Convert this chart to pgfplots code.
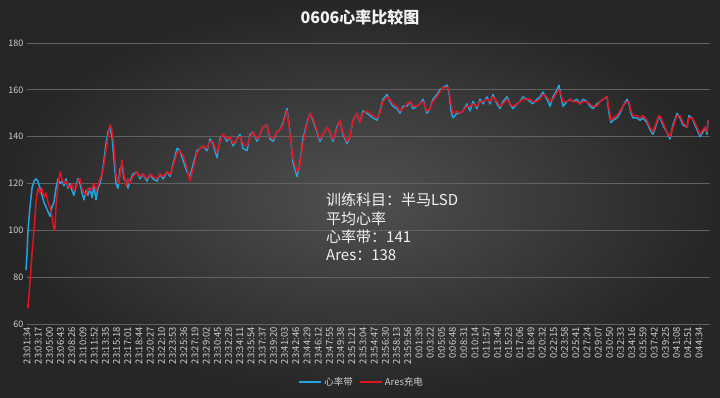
\documentclass[border=0pt]{standalone}
\usepackage{fontspec}
\setmainfont{Noto Sans CJK SC}
\usepackage{pgfplots}
\pgfplotsset{compat=1.18}
\definecolor{bgin}{HTML}{505050}
\definecolor{bgout}{HTML}{262626}
\definecolor{hrblue}{HTML}{1FA6E0}
\definecolor{hrred}{HTML}{E0141E}
\definecolor{gridc}{HTML}{626262}
\definecolor{txt}{HTML}{CFCFCF}
\begin{document}
\begin{tikzpicture}[x=1pt,y=1pt]
\shade[inner color=bgin, outer color=bgout] (0,0) rectangle (720,397);
\path[use as bounding box] (0,0) rectangle (720,397);
\begin{axis}[
  at={(27pt,73pt)}, anchor=south west,
  scale only axis, width=683pt, height=281pt,
  xmin=27, xmax=710, ymin=60, ymax=180,
  axis line style={draw=none},
  major tick length=0pt,
  ytick={60,80,...,180},
  ymajorgrids, grid style={gridc, line width=0.8pt},
  /pgf/number format/assume math mode=true,
  yticklabel style={font=\fontsize{9}{10}\selectfont, text=txt},
  xtick={27,38.2,...,699.5},
  xticklabels={23:01:34,23:03:17,23:05:00,23:06:43,23:08:26,23:10:09,23:11:52,23:13:35,23:15:18,23:17:01,23:18:44,23:20:27,23:22:10,23:23:53,23:25:36,23:27:19,23:29:02,23:30:45,23:32:28,23:34:11,23:35:54,23:37:37,23:39:20,23:41:03,23:42:46,23:44:29,23:46:12,23:47:55,23:49:38,23:51:21,23:53:04,23:54:47,23:56:30,23:58:13,23:59:56,0:01:39,0:03:22,0:05:05,0:06:48,0:08:31,0:10:14,0:11:57,0:13:40,0:15:23,0:17:06,0:18:49,0:20:32,0:22:15,0:23:58,0:25:41,0:27:24,0:29:07,0:30:50,0:32:33,0:34:16,0:35:59,0:37:42,0:39:25,0:41:08,0:42:51,0:44:34},
  xticklabel style={font=\fontsize{9.4}{10}\selectfont, text=txt, rotate=90, anchor=east},
  legend style={at={(0.49,-0.206)}, anchor=center, draw=none, fill=none, text=txt, font=\fontsize{9.5}{10}\selectfont, legend columns=2, /tikz/every even column/.append style={column sep=4pt}},
  legend image code/.code={\draw[#1, line width=2pt] (0pt,0pt) -- (22pt,0pt);},
  clip=false,
]
\addplot[hrblue, line width=1.5pt, line join=round, mark=none] coordinates {
(26,83)(27,90)(28,100)(30,110)(32,118)(34,121)(36,122)(38,121)(40,118)(42,115)(44,112)(46,110)(48,108)(50,106)(52,110)(54,112)(55,115)(56,118)(58,122)(60,120)(62,121)(64,119)(66,122)(68,118)(70,120)(72,117)(74,115)(76,119)(78,122)(80,120)(82,116)(84,113)(86,117)(88,115)(90,118)(92,114)(94,119)(96,113)(98,118)(100,120)(102,124)(104,130)(106,137)(108,142)(110,144)(112,140)(114,130)(116,120)(118,118)(120,126)(122,128)(124,122)(126,121)(128,118)(130,121)(133,124)(137,125)(140,122)(143,124)(147,121)(150,124)(153,122)(157,121)(160,124)(163,122)(167,125)(170,123)(173,128)(177,135)(180,134)(183,130)(187,125)(190,123)(193,128)(197,134)(200,135)(203,136)(207,134)(210,139)(213,137)(217,131)(220,139)(223,141)(227,138)(230,140)(233,136)(237,139)(240,141)(243,135)(247,134)(250,141)(253,142)(257,138)(260,141)(263,144)(267,145)(270,139)(273,138)(277,142)(280,143)(283,146)(287,152)(290,142)(293,129)(297,123)(300,129)(303,139)(307,146)(310,150)(313,147)(317,142)(320,138)(323,141)(327,144)(330,142)(333,138)(337,144)(340,147)(343,141)(347,137)(350,140)(353,147)(357,150)(360,146)(363,151)(367,150)(370,149)(373,148)(377,147)(380,151)(383,156)(387,158)(390,155)(393,153)(397,152)(400,150)(403,153)(407,153)(410,155)(413,152)(417,153)(420,154)(423,156)(427,150)(430,152)(433,156)(437,158)(440,160)(443,161)(447,162)(449,159)(451,151)(453,148)(457,150)(460,150)(463,151)(467,154)(470,151)(473,155)(477,152)(480,156)(483,154)(487,157)(490,154)(493,158)(497,154)(500,152)(503,155)(507,157)(510,154)(513,152)(517,154)(520,155)(523,157)(527,156)(530,155)(533,154)(537,156)(540,157)(543,159)(547,156)(550,153)(553,157)(557,160)(559,162)(561,157)(563,153)(567,155)(570,156)(573,155)(577,156)(580,154)(583,156)(587,155)(590,153)(593,152)(597,154)(600,155)(603,156)(607,157)(609,150)(611,146)(613,147)(617,148)(620,150)(623,153)(627,156)(629,154)(631,150)(633,148)(637,148)(640,147)(643,148)(647,146)(650,143)(653,141)(657,146)(659,149)(661,147)(664,144)(667,142)(670,139)(673,145)(677,150)(680,148)(683,145)(687,144)(689,149)(692,148)(695,145)(698,142)(700,140)(703,142)(705,144)(707,141)(708,147)
};
\addlegendentry{心率带}
\addplot[hrred, line width=1.5pt, line join=round, mark=none] coordinates {
(27,68)(28,67)(30,78)(32,90)(34,100)(36,112)(38,118)(40,116)(42,118)(44,114)(46,116)(48,112)(50,110)(52,106)(54,100)(55,101)(56,110)(58,119)(60,125)(62,122)(64,120)(66,121)(68,119)(70,118)(72,120)(74,117)(76,118)(78,121)(80,122)(82,118)(84,116)(86,115)(88,118)(90,117)(92,118)(94,120)(96,117)(98,119)(100,122)(102,124)(104,128)(106,134)(108,140)(110,145)(112,143)(114,136)(116,124)(118,120)(120,123)(122,130)(124,124)(126,119)(128,122)(130,120)(133,123)(137,125)(140,123)(143,124)(147,122)(150,124)(153,123)(157,122)(160,124)(163,123)(167,125)(170,124)(173,127)(177,133)(180,134)(183,132)(187,127)(190,121)(193,126)(197,133)(200,135)(203,136)(207,135)(210,138)(213,138)(217,133)(220,138)(223,141)(227,139)(230,140)(233,137)(237,139)(240,140)(243,137)(247,136)(250,140)(253,142)(257,139)(260,141)(263,144)(267,145)(270,140)(273,139)(277,142)(280,143)(283,145)(287,151)(290,141)(293,131)(297,125)(300,128)(303,137)(307,145)(310,150)(313,148)(317,143)(320,139)(323,141)(327,144)(330,142)(333,139)(337,143)(340,147)(343,142)(347,138)(350,140)(353,147)(357,150)(360,146)(363,150)(367,151)(370,150)(373,149)(377,148)(380,150)(383,155)(387,157)(390,156)(393,154)(397,153)(400,151)(403,152)(407,154)(410,155)(413,153)(417,153)(420,154)(423,155)(427,151)(430,152)(433,155)(437,157)(440,159)(443,161)(447,161)(449,160)(451,154)(453,150)(457,151)(460,150)(463,151)(467,153)(470,153)(473,154)(477,153)(480,155)(483,155)(487,156)(490,155)(493,157)(497,155)(500,153)(503,154)(507,156)(510,154)(513,153)(517,154)(520,155)(523,156)(527,156)(530,156)(533,155)(537,155)(540,156)(543,158)(547,157)(550,155)(553,156)(557,159)(559,160)(561,158)(563,155)(567,155)(570,156)(573,155)(577,155)(580,154)(583,155)(587,155)(590,154)(593,153)(597,153)(600,155)(603,156)(607,157)(609,152)(611,147)(613,148)(617,149)(620,151)(623,153)(627,155)(629,155)(631,151)(633,149)(637,149)(640,148)(643,149)(647,147)(650,144)(653,142)(657,147)(659,149)(661,148)(664,145)(667,142)(670,140)(673,144)(677,149)(680,149)(683,146)(687,144)(689,148)(692,148)(695,146)(698,143)(700,141)(703,143)(705,144)(707,142)(708,147)
};
\addlegendentry{Ares充电}
\end{axis}
\node[text=white!95!black, font=\bfseries\fontsize{16}{18}\selectfont] at (360,380) {0606心率比较图};
\node[anchor=north west, align=left, inner sep=0pt, text=white!95!black, font=\fontsize{15}{18.3}\selectfont] at (326,204) {训练科目：半马LSD\\平均心率\\心率带：141\\Ares：138};
\end{tikzpicture}
\end{document}
